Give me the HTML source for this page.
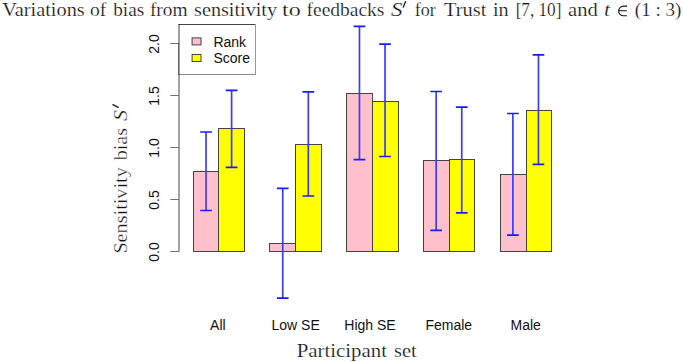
<!DOCTYPE html>
<html><head><meta charset="utf-8"><style>
html,body{margin:0;padding:0;background:#fff;width:683px;height:362px;overflow:hidden}
svg{display:block}
.s{font-family:"Liberation Sans",sans-serif;font-size:14px;fill:#111}
  .t.r{stroke-width:0.32px}
.t{font-family:"Liberation Serif",serif;font-size:19.3px;fill:#111;stroke:#fff;stroke-width:0.22px}
</style></head><body>
<svg width="683" height="362" viewBox="0 0 683 362">
<rect x="193.5" y="171.5" width="25.0" height="80.0" fill="#FFC0CB" stroke="#444" stroke-width="1"/>
<rect x="218.5" y="128.5" width="26.0" height="123.0" fill="#FFFF00" stroke="#444" stroke-width="1"/>
<rect x="269.5" y="243.5" width="26.0" height="8.0" fill="#FFC0CB" stroke="#444" stroke-width="1"/>
<rect x="295.5" y="144.5" width="26.0" height="107.0" fill="#FFFF00" stroke="#444" stroke-width="1"/>
<rect x="346.5" y="93.5" width="26.0" height="158.0" fill="#FFC0CB" stroke="#444" stroke-width="1"/>
<rect x="372.5" y="101.5" width="26.0" height="150.0" fill="#FFFF00" stroke="#444" stroke-width="1"/>
<rect x="423.5" y="160.5" width="26.0" height="91.0" fill="#FFC0CB" stroke="#444" stroke-width="1"/>
<rect x="449.5" y="159.5" width="25.0" height="92.0" fill="#FFFF00" stroke="#444" stroke-width="1"/>
<rect x="500.5" y="174.5" width="26.0" height="77.0" fill="#FFC0CB" stroke="#444" stroke-width="1"/>
<rect x="526.5" y="110.5" width="25.0" height="141.0" fill="#FFFF00" stroke="#444" stroke-width="1"/>
<path d="M206.04 132.00V210.50" stroke="#3c3cFF" stroke-width="1.7" fill="none"/>
<path d="M200.19 132.00H211.89M200.19 210.50H211.89" stroke="#1a1aFF" stroke-width="1.7" fill="none"/>
<path d="M231.61 90.30V167.30" stroke="#3c3cFF" stroke-width="1.7" fill="none"/>
<path d="M225.76 90.30H237.46M225.76 167.30H237.46" stroke="#1a1aFF" stroke-width="1.7" fill="none"/>
<path d="M282.75 188.40V298.10" stroke="#3c3cFF" stroke-width="1.7" fill="none"/>
<path d="M276.90 188.40H288.60M276.90 298.10H288.60" stroke="#1a1aFF" stroke-width="1.7" fill="none"/>
<path d="M308.32 91.90V196.00" stroke="#3c3cFF" stroke-width="1.7" fill="none"/>
<path d="M302.47 91.90H314.17M302.47 196.00H314.17" stroke="#1a1aFF" stroke-width="1.7" fill="none"/>
<path d="M359.46 26.30V159.60" stroke="#3c3cFF" stroke-width="1.7" fill="none"/>
<path d="M353.61 26.30H365.31M353.61 159.60H365.31" stroke="#1a1aFF" stroke-width="1.7" fill="none"/>
<path d="M385.03 44.20V156.50" stroke="#3c3cFF" stroke-width="1.7" fill="none"/>
<path d="M379.18 44.20H390.88M379.18 156.50H390.88" stroke="#1a1aFF" stroke-width="1.7" fill="none"/>
<path d="M436.17 91.50V230.40" stroke="#3c3cFF" stroke-width="1.7" fill="none"/>
<path d="M430.32 91.50H442.02M430.32 230.40H442.02" stroke="#1a1aFF" stroke-width="1.7" fill="none"/>
<path d="M461.75 107.20V212.80" stroke="#3c3cFF" stroke-width="1.7" fill="none"/>
<path d="M455.90 107.20H467.60M455.90 212.80H467.60" stroke="#1a1aFF" stroke-width="1.7" fill="none"/>
<path d="M512.89 113.50V235.20" stroke="#3c3cFF" stroke-width="1.7" fill="none"/>
<path d="M507.04 113.50H518.74M507.04 235.20H518.74" stroke="#1a1aFF" stroke-width="1.7" fill="none"/>
<path d="M538.46 54.80V164.30" stroke="#3c3cFF" stroke-width="1.7" fill="none"/>
<path d="M532.61 54.80H544.31M532.61 164.30H544.31" stroke="#1a1aFF" stroke-width="1.7" fill="none"/>
<path d="M179 251.5V43" stroke="#000" stroke-width="0.72" fill="none"/>
<path d="M170.3 251.5H179" stroke="#707070" stroke-width="1" fill="none"/>
<text transform="translate(159.3 252.00) rotate(-90)" text-anchor="middle" class="s">0.0</text>
<path d="M170.3 199.5H179" stroke="#707070" stroke-width="1" fill="none"/>
<text transform="translate(159.3 200.00) rotate(-90)" text-anchor="middle" class="s">0.5</text>
<path d="M170.3 147.5H179" stroke="#707070" stroke-width="1" fill="none"/>
<text transform="translate(159.3 148.00) rotate(-90)" text-anchor="middle" class="s">1.0</text>
<path d="M170.3 95.5H179" stroke="#707070" stroke-width="1" fill="none"/>
<text transform="translate(159.3 96.00) rotate(-90)" text-anchor="middle" class="s">1.5</text>
<path d="M170.3 43.5H179" stroke="#707070" stroke-width="1" fill="none"/>
<text transform="translate(159.3 44.00) rotate(-90)" text-anchor="middle" class="s">2.0</text>
<rect x="179" y="24.5" width="76.5" height="50" fill="#fff" stroke="none"/>
<path d="M178.5 24.5H256" stroke="#444" stroke-width="1"/>
<path d="M178.6 74.5H256" stroke="#888" stroke-width="1"/>
<path d="M179 24V75" stroke="#000" stroke-width="0.75"/>
<path d="M255.5 24V75" stroke="#999" stroke-width="1"/>
<rect x="192.1" y="37.9" width="8.9" height="7" fill="#FFC0CB" stroke="#444" stroke-width="1"/>
<rect x="192.1" y="54.5" width="8.9" height="7" fill="#FFFF00" stroke="#444" stroke-width="1"/>
<text x="213.4" y="46.6" class="s">Rank</text>
<text x="213.4" y="63.3" class="s">Score</text>
<text x="217.85" y="329.5" text-anchor="middle" class="s">All</text>
<text x="295.65" y="329.5" text-anchor="middle" class="s">Low SE</text>
<text x="370.00" y="329.5" text-anchor="middle" class="s">High SE</text>
<text x="448.80" y="329.5" text-anchor="middle" class="s">Female</text>
<text x="525.75" y="329.5" text-anchor="middle" class="s">Male</text>
<text x="2.34" y="15.50" class="t" textLength="82.39" lengthAdjust="spacingAndGlyphs">Variations</text>
<text x="90.14" y="15.50" class="t" textLength="16.22" lengthAdjust="spacingAndGlyphs">of</text>
<text x="113.20" y="15.50" class="t" textLength="31.01" lengthAdjust="spacingAndGlyphs">bias</text>
<text x="149.90" y="15.50" class="t" textLength="37.64" lengthAdjust="spacingAndGlyphs">from</text>
<text x="194.12" y="15.50" class="t" textLength="82.92" lengthAdjust="spacingAndGlyphs">sensitivity</text>
<text x="281.99" y="15.50" class="t" textLength="18.75" lengthAdjust="spacingAndGlyphs">to</text>
<text x="306.50" y="15.50" class="t" textLength="77.84" lengthAdjust="spacingAndGlyphs">feedbacks</text>
<text x="391.00" y="15.50" class="t" textLength="11.46" lengthAdjust="spacingAndGlyphs"><tspan font-style="italic">S</tspan></text>
<text x="414.73" y="15.50" class="t" textLength="20.99" lengthAdjust="spacingAndGlyphs">for</text>
<text x="444.04" y="15.50" class="t" textLength="42.40" lengthAdjust="spacingAndGlyphs">Trust</text>
<text x="492.98" y="15.50" class="t" textLength="15.68" lengthAdjust="spacingAndGlyphs">in</text>
<text x="515.67" y="15.50" class="t" textLength="45.68" lengthAdjust="spacingAndGlyphs">[7, 10]</text>
<text x="568.10" y="15.50" class="t" textLength="29.77" lengthAdjust="spacingAndGlyphs">and</text>
<text x="634.86" y="15.50" class="t" textLength="46.50" lengthAdjust="spacingAndGlyphs">(1 : 3)</text>
<text x="603.97" y="15.50" class="t" textLength="6.16" lengthAdjust="spacingAndGlyphs"><tspan font-style="italic">t</tspan></text>
<path d="M627 6.1H623.45A4.85 4.85 0 0 0 623.45 15.8H627M618.6 10.7H626.8" stroke="#151515" stroke-width="1.1" fill="none"/>
<path d="M405.5 1.7L403.2 7.2" stroke="#1a1a1a" stroke-width="1.3" stroke-linecap="round" fill="none"/>
<path d="M112.9 104.7L118.2 107.4" stroke="#1a1a1a" stroke-width="1.3" stroke-linecap="round" fill="none"/>
<text x="296.66" y="356.80" class="t" textLength="90.27" lengthAdjust="spacingAndGlyphs">Participant</text>
<text x="394.11" y="356.80" class="t" textLength="22.68" lengthAdjust="spacingAndGlyphs">set</text>
<g transform="translate(126.8 0) rotate(-90)"><text x="-253.61" y="0.00" class="t r" textLength="86.41" lengthAdjust="spacingAndGlyphs">Sensitivity</text><text x="-160.30" y="0.00" class="t r" textLength="32.45" lengthAdjust="spacingAndGlyphs">bias</text><text x="-120.99" y="0.00" class="t r" textLength="11.03" lengthAdjust="spacingAndGlyphs"><tspan font-style="italic">S</tspan></text></g>
</svg>
</body></html>
